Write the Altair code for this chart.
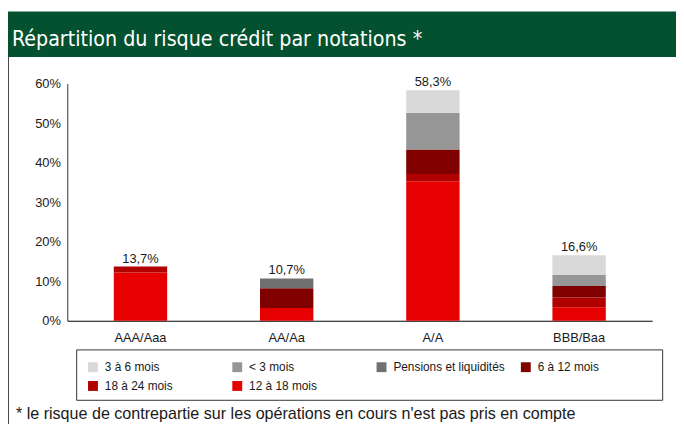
import altair as alt
import pandas as pd

# ---- data ----
categories = ["AAA/Aaa", "AA/Aa", "A/A", "BBB/Baa"]
totals = [13.7, 10.7, 58.3, 16.6]

# series values (%) per category, bottom to top of each stack
s_12_18 = [12.2, 3.2, 35.3, 3.4]
s_18_24 = [1.5, 0.0, 1.8, 2.5]
s_6_12 = [0.0, 5.0, 6.2, 2.9]
s_pensions = [0.0, 2.5, 0.0, 0.0]
s_lt3 = [0.0, 0.0, 9.3, 2.8]
s_3_6 = [0.0, 0.0, 5.7, 5.0]

series_names = ["12 à 18 mois", "18 à 24 mois", "6 à 12 mois",
                "Pensions et liquidités", "< 3 mois", "3 à 6 mois"]
series_values = [s_12_18, s_18_24, s_6_12, s_pensions, s_lt3, s_3_6]

legend_order = ["3 à 6 mois", "< 3 mois", "Pensions et liquidités",
                "6 à 12 mois", "18 à 24 mois", "12 à 18 mois"]
legend_colors = ["#D9D9D9", "#969696", "#707070", "#800000", "#B00000", "#E60000"]

y_ticks = [0, 10, 20, 30, 40, 50, 60]

title_text = "Répartition du risque crédit par notations *"
footnote_text = "* le risque de contrepartie sur les opérations en cours n'est pas pris en compte"

# ---- tables ----
rows = []
for si, (name, vals) in enumerate(zip(series_names, series_values)):
    for cat, v in zip(categories, vals):
        if v > 0:
            rows.append({"cat": cat, "serie": name, "val": v, "ord": si})
bars_df = pd.DataFrame(rows)

tot_df = pd.DataFrame({
    "cat": categories,
    "total": totals,
    "label": [f"{t:.1f}".replace(".", ",") + "%" for t in totals],
})

one = pd.DataFrame({"k": [0]})

FONT = "Liberation Sans, Arial, sans-serif"

x_axis = alt.Axis(title=None, labelAngle=0, ticks=False, labelPadding=11,
                  domainColor="#000000", labelFontSize=13,
                  labelFont=FONT, labelColor="#1a1a1a")
x_scale = alt.Scale(paddingInner=0.635, paddingOuter=0.318)

y_axis = alt.Axis(title=None, values=y_ticks, tickCount=7, labelExpr="datum.value + '%'",
                  ticks=False, grid=False, labelPadding=7, labelOverlap=False,
                  domainColor="#333333", labelFontSize=13,
                  labelFont=FONT, labelColor="#1a1a1a")
y_scale = alt.Scale(domain=[0, 60], nice=False)

bars = alt.Chart(bars_df).mark_bar().encode(
    x=alt.X("cat:N", sort=categories, scale=x_scale, axis=x_axis),
    y=alt.Y("sum(val):Q", stack="zero", scale=y_scale, axis=y_axis),
    color=alt.Color("serie:N",
                    scale=alt.Scale(domain=legend_order, range=legend_colors),
                    legend=alt.Legend(title=None, orient="none", legendX=20, legendY=281,
                                      direction="horizontal",
                                      columns=4, gridAlign="all", columnPadding=15,
                                      rowPadding=7, symbolType="square", symbolSize=100,
                                      symbolStrokeWidth=0, labelFontSize=12,
                                      labelFont=FONT, labelColor="#1a1a1a",
                                      labelOffset=6, padding=0)),
    order=alt.Order("ord:Q", sort="ascending"),
)

labels = alt.Chart(tot_df).mark_text(
    baseline="alphabetic", dy=-4, fontSize=13, font=FONT, color="#1a1a1a"
).encode(
    x=alt.X("cat:N", sort=categories, scale=x_scale, axis=x_axis),
    y=alt.Y("total:Q", scale=y_scale, axis=y_axis),
    text="label:N",
)

header = alt.Chart(one).mark_rect(color="#04512F").encode(
    x=alt.value(-60), x2=alt.value(616), y=alt.value(-73), y2=alt.value(-27)
)

title = alt.Chart(one).mark_text(
    text=title_text, align="left", baseline="alphabetic", color="white",
    fontSize=21.5, fontWeight=500,
    font="Liberation Sans Narrow, DejaVu Sans Condensed, Roboto Condensed, Roboto, sans-serif"
).encode(x=alt.value(-56), y=alt.value(-38))

left_border = alt.Chart(one).mark_rule(color="#444444", strokeWidth=1).encode(
    x=alt.value(-59.5), y=alt.value(-27), y2=alt.value(345)
)

legend_box = alt.Chart(one).mark_rect(fill="white", fillOpacity=0, stroke="#333333",
                                      strokeWidth=1).encode(
    x=alt.value(9.5), x2=alt.value(602.5), y=alt.value(269.5), y2=alt.value(320.5)
)

footnote = alt.Chart(one).mark_text(
    text=footnote_text, align="left", baseline="alphabetic", color="#1a1a1a",
    fontSize=16.3, font=FONT
).encode(x=alt.value(-52), y=alt.value(339))

chart = alt.layer(header, title, left_border, legend_box, bars, labels, footnote).properties(
    width=592, height=240,
    autosize=alt.AutoSizeParams(type="none"),
    padding={"left": 60, "top": 74, "right": 24, "bottom": 102},
    background="white",
).configure_view(stroke=None)

chart.save("out.html", embed_options={"renderer": "svg", "actions": False})
